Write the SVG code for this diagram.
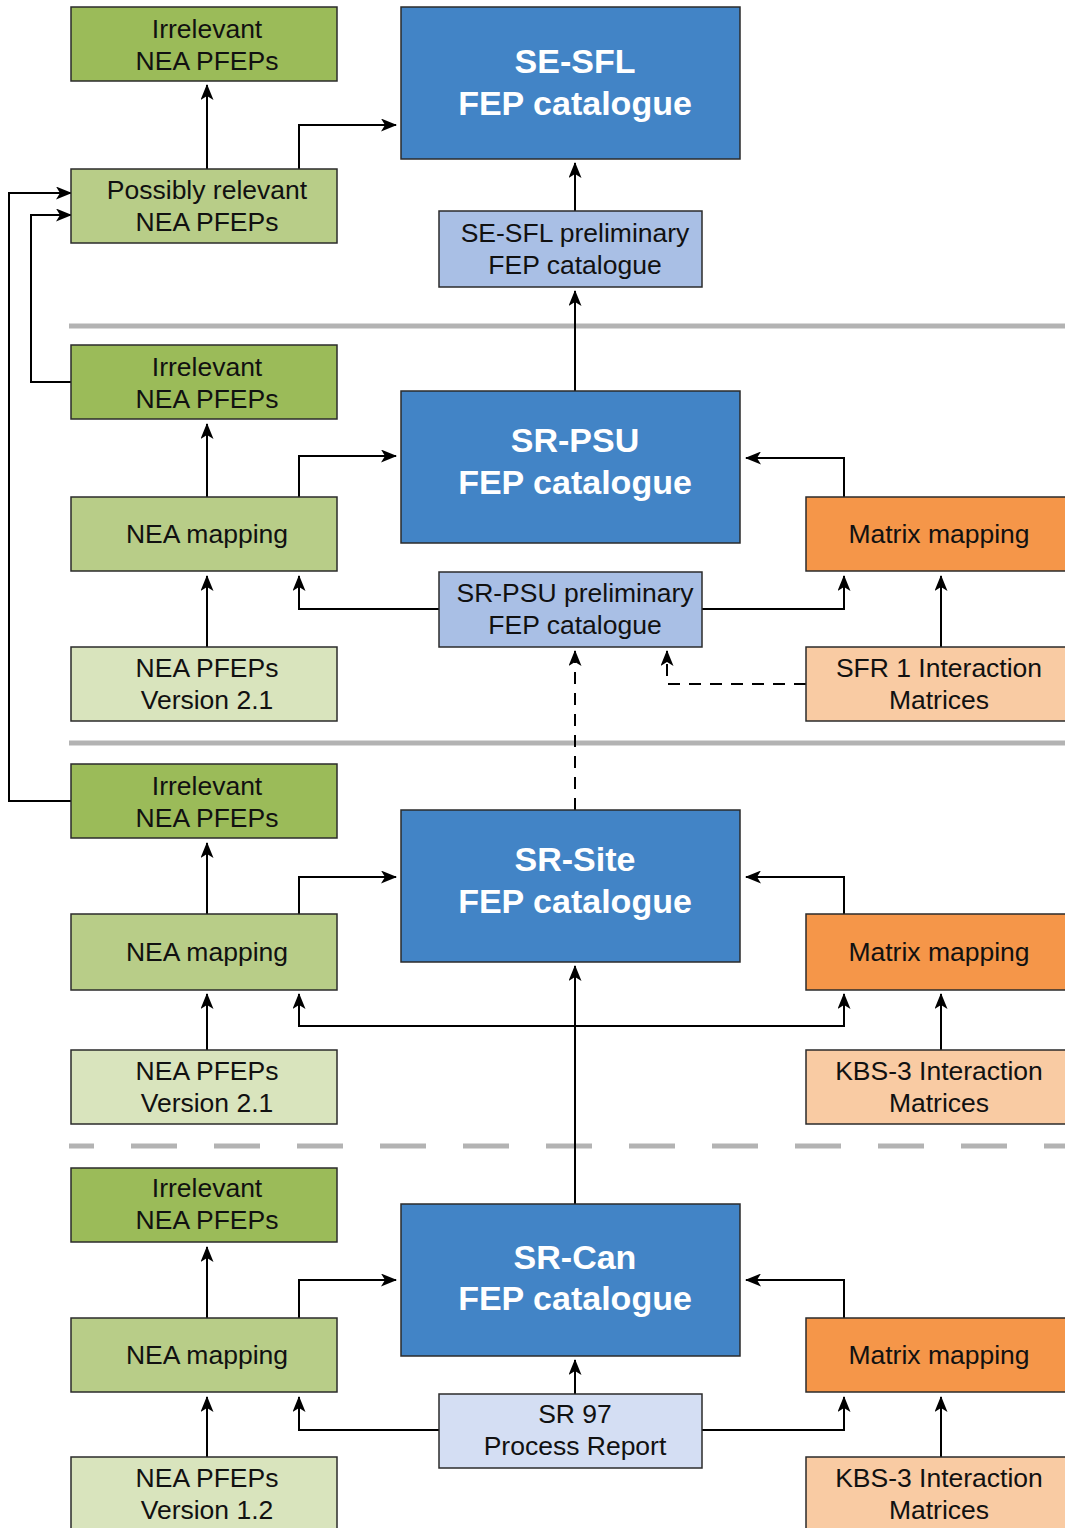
<svg xmlns="http://www.w3.org/2000/svg" width="1065" height="1528" viewBox="0 0 1065 1528">
<style>
.b{stroke:#2b2b2b;stroke-width:1.5}
.dg{fill:#9bbb59}.lg{fill:#b8cd88}.pg{fill:#d9e4bd}
.bl{fill:#4284c6}.pb{fill:#a9bfe5}.vb{fill:#d4def3}
.or{fill:#f59649}.pe{fill:#f9cba3}
text{font-family:"Liberation Sans",Arial,sans-serif;font-size:26.5px;fill:#111;text-anchor:middle}
.big{font-size:34px;font-weight:bold;fill:#fff}
.c{fill:none;stroke:#000;stroke-width:2;marker-end:url(#a)}
.d{stroke-dasharray:12 9}
.sep{stroke:#b3b3b3;stroke-width:5;fill:none}
</style>
<defs>
<marker id="a" viewBox="0 0 16 13" refX="15" refY="6.5" markerWidth="16" markerHeight="13" markerUnits="userSpaceOnUse" orient="auto">
<path d="M0,0 L16,6.5 L0,13 L4,6.5 z" fill="#000"/>
</marker>
</defs>
<g id="separators">
<line class="sep" x1="69" y1="326" x2="1065" y2="326"/>
<line class="sep" x1="69" y1="743" x2="1065" y2="743"/>
<line class="sep" x1="69" y1="1146" x2="1065" y2="1146" stroke-dasharray="46 37" stroke-dashoffset="21"/>
</g>
<g id="connectors">
<path class="c" d="M207,169 V85"/>
<path class="c" d="M299,169 V125 H396"/>
<path class="c" d="M575,211 V163"/>
<path class="c" d="M575,391 V291"/>
<path class="c" d="M71,801 H9 V193 H71"/>
<path class="c" d="M71,382 H31 V215 H71"/>
<path class="c" d="M207,497 V424"/>
<path class="c" d="M299,497 V456 H396"/>
<path class="c" d="M844,497 V458 H746"/>
<path class="c" d="M207,647 V576"/>
<path class="c" d="M439,609 H299 V576"/>
<path class="c" d="M702,609 H844 V576"/>
<path class="c" d="M941,647 V576"/>
<path class="c d" d="M806,684 H667 V651"/>
<path class="c d" d="M575,810 V651"/>
<path class="c" d="M207,914 V843"/>
<path class="c" d="M299,914 V877 H396"/>
<path class="c" d="M844,914 V877 H746"/>
<path class="c" d="M207,1050 V994"/>
<path class="c" d="M941,1050 V994"/>
<path class="c" d="M575,1204 V966"/>
<path class="c" d="M575,1026 H299 V994"/>
<path class="c" d="M575,1026 H844 V994"/>
<path class="c" d="M207,1318 V1247"/>
<path class="c" d="M299,1318 V1280 H396"/>
<path class="c" d="M844,1318 V1280 H746"/>
<path class="c" d="M207,1457 V1397"/>
<path class="c" d="M941,1457 V1397"/>
<path class="c" d="M575,1394 V1360"/>
<path class="c" d="M439,1430 H299 V1397"/>
<path class="c" d="M702,1430 H844 V1397"/>
</g>
<g id="irr1"><rect class="b dg" x="71" y="7" width="266" height="74"/><text x="207" y="38">Irrelevant</text><text x="207" y="70">NEA PFEPs</text></g>
<g id="poss"><rect class="b lg" x="71" y="169" width="266" height="74"/><text x="207" y="199">Possibly relevant</text><text x="207" y="231">NEA PFEPs</text></g>
<g id="sesfl"><rect class="b bl" x="401" y="7" width="339" height="152"/><text class="big" x="575" y="73">SE-SFL</text><text class="big" x="575" y="115">FEP catalogue</text></g>
<g id="sesflpre"><rect class="b pb" x="439" y="211" width="263" height="76"/><text x="575" y="242">SE-SFL preliminary</text><text x="575" y="274">FEP catalogue</text></g>

<g id="irr2"><rect class="b dg" x="71" y="345" width="266" height="74"/><text x="207" y="376">Irrelevant</text><text x="207" y="408">NEA PFEPs</text></g>
<g id="nea2"><rect class="b lg" x="71" y="497" width="266" height="74"/><text x="207" y="543">NEA mapping</text></g>
<g id="pfep2"><rect class="b pg" x="71" y="647" width="266" height="74"/><text x="207" y="677">NEA PFEPs</text><text x="207" y="709">Version 2.1</text></g>
<g id="srpsu"><rect class="b bl" x="401" y="391" width="339" height="152"/><text class="big" x="575" y="452">SR-PSU</text><text class="big" x="575" y="494">FEP catalogue</text></g>
<g id="mat2"><rect class="b or" x="806" y="497" width="266" height="74"/><text x="939" y="543">Matrix mapping</text></g>
<g id="srpsupre"><rect class="b pb" x="439" y="572" width="263" height="75"/><text x="575" y="602">SR-PSU preliminary</text><text x="575" y="634">FEP catalogue</text></g>
<g id="sfr1"><rect class="b pe" x="806" y="647" width="266" height="74"/><text x="939" y="677">SFR 1 Interaction</text><text x="939" y="709">Matrices</text></g>

<g id="irr3"><rect class="b dg" x="71" y="764" width="266" height="74"/><text x="207" y="795">Irrelevant</text><text x="207" y="827">NEA PFEPs</text></g>
<g id="nea3"><rect class="b lg" x="71" y="914" width="266" height="76"/><text x="207" y="961">NEA mapping</text></g>
<g id="pfep3"><rect class="b pg" x="71" y="1050" width="266" height="74"/><text x="207" y="1080">NEA PFEPs</text><text x="207" y="1112">Version 2.1</text></g>
<g id="srsite"><rect class="b bl" x="401" y="810" width="339" height="152"/><text class="big" x="575" y="871">SR-Site</text><text class="big" x="575" y="913">FEP catalogue</text></g>
<g id="mat3"><rect class="b or" x="806" y="914" width="266" height="76"/><text x="939" y="961">Matrix mapping</text></g>
<g id="kbs3a"><rect class="b pe" x="806" y="1050" width="266" height="74"/><text x="939" y="1080">KBS-3 Interaction</text><text x="939" y="1112">Matrices</text></g>

<g id="irr4"><rect class="b dg" x="71" y="1168" width="266" height="74"/><text x="207" y="1197">Irrelevant</text><text x="207" y="1229">NEA PFEPs</text></g>
<g id="nea4"><rect class="b lg" x="71" y="1318" width="266" height="74"/><text x="207" y="1364">NEA mapping</text></g>
<g id="pfep4"><rect class="b pg" x="71" y="1457" width="266" height="80"/><text x="207" y="1487">NEA PFEPs</text><text x="207" y="1519">Version 1.2</text></g>
<g id="srcan"><rect class="b bl" x="401" y="1204" width="339" height="152"/><text class="big" x="575" y="1269">SR-Can</text><text class="big" x="575" y="1310">FEP catalogue</text></g>
<g id="mat4"><rect class="b or" x="806" y="1318" width="266" height="74"/><text x="939" y="1364">Matrix mapping</text></g>
<g id="sr97"><rect class="b vb" x="439" y="1394" width="263" height="74"/><text x="575" y="1423">SR 97</text><text x="575" y="1455">Process Report</text></g>
<g id="kbs3b"><rect class="b pe" x="806" y="1457" width="266" height="80"/><text x="939" y="1487">KBS-3 Interaction</text><text x="939" y="1519">Matrices</text></g>
</svg>
